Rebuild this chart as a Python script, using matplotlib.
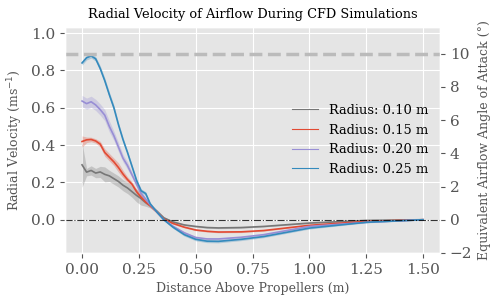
"""Radial velocity of the airflow above the propellers, CFD runs."""

import numpy as np
import matplotlib
matplotlib.use("Agg")
import matplotlib.pyplot as plt

plt.style.use("ggplot")
plt.rcParams["font.family"] = ["DejaVu Serif"]

# distance above propellers (m)
dist = [0.00, 0.02, 0.04, 0.06, 0.08, 0.10, 0.12, 0.14, 0.16, 0.18, 0.20,
        0.22, 0.24, 0.26, 0.28, 0.30, 0.33, 0.36, 0.40, 0.45, 0.50, 0.55,
        0.60, 0.70, 0.80, 1.00, 1.25, 1.50]

# mean radial velocity (m/s) per radius
v_010 = [0.294, 0.255, 0.264, 0.250, 0.256, 0.243, 0.235, 0.220, 0.205, 0.185,
         0.170, 0.150, 0.130, 0.113, 0.092, 0.075, 0.045, 0.010, -0.012, -0.028,
         -0.036, -0.042, -0.044, -0.042, -0.036, -0.018, -0.004, 0.000]
v_015 = [0.419, 0.428, 0.430, 0.422, 0.405, 0.360, 0.335, 0.310, 0.280, 0.245,
         0.215, 0.190, 0.150, 0.120, 0.095, 0.075, 0.040, 0.003, -0.020, -0.040,
         -0.055, -0.062, -0.066, -0.065, -0.058, -0.030, -0.009, 0.000]
v_020 = [0.636, 0.622, 0.632, 0.615, 0.590, 0.560, 0.500, 0.450, 0.390, 0.330,
         0.290, 0.240, 0.190, 0.140, 0.110, 0.080, 0.040, 0.000, -0.035, -0.070,
         -0.095, -0.103, -0.103, -0.094, -0.080, -0.036, -0.014, 0.000]
v_025 = [0.840, 0.868, 0.878, 0.862, 0.810, 0.745, 0.670, 0.600, 0.510, 0.430,
         0.360, 0.285, 0.210, 0.155, 0.140, 0.085, 0.040, 0.000, -0.040, -0.080,
         -0.105, -0.115, -0.116, -0.105, -0.090, -0.045, -0.014, 0.000]

# spread between runs (half width of shaded band)
e_010 = [0.120, 0.020, 0.025, 0.025, 0.030, 0.040, 0.030, 0.030, 0.030, 0.030,
         0.030, 0.030, 0.035, 0.035, 0.020, 0.012, 0.008, 0.006, 0.005, 0.004,
         0.004, 0.004, 0.004, 0.004, 0.003, 0.003, 0.002, 0.002]
e_015 = [0.030, 0.015, 0.012, 0.012, 0.015, 0.020, 0.020, 0.020, 0.025, 0.020,
         0.015, 0.012, 0.012, 0.015, 0.010, 0.008, 0.006, 0.005, 0.004, 0.004,
         0.004, 0.004, 0.004, 0.004, 0.003, 0.003, 0.002, 0.002]
e_020 = [0.030, 0.030, 0.030, 0.030, 0.030, 0.030, 0.030, 0.025, 0.025, 0.020,
         0.020, 0.015, 0.015, 0.012, 0.010, 0.008, 0.006, 0.005, 0.005, 0.005,
         0.005, 0.005, 0.005, 0.004, 0.004, 0.003, 0.002, 0.002]
e_025 = [0.012, 0.012, 0.012, 0.012, 0.015, 0.015, 0.015, 0.015, 0.012, 0.012,
         0.010, 0.010, 0.010, 0.010, 0.010, 0.008, 0.006, 0.006, 0.006, 0.008,
         0.008, 0.008, 0.008, 0.007, 0.006, 0.005, 0.003, 0.002]

radii = ["0.10", "0.15", "0.20", "0.25"]
colors = ["#777777", "#E24A33", "#988ED5", "#348ABD"]
means = [v_010, v_015, v_020, v_025]
errs = [e_010, e_015, e_020, e_025]

AOA_LIMIT = 10.0           # degrees
DEG_PER_MS = 10.0 / 0.889  # right axis scale

fig, ax = plt.subplots(figsize=(5.0, 3.04), dpi=100)
fig.subplots_adjust(left=0.13, right=0.88, top=0.912, bottom=0.168)

x = np.array(dist)
for r, c, m, e in zip(radii, colors, means, errs):
    m = np.array(m)
    e = np.array(e)
    ax.fill_between(x, m - e, m + e, color=c, alpha=0.3, lw=0)
    ax.plot(x, m, color=c, lw=1.2, label=f"Radius: {r} m")

ax.axhline(0, color="k", ls="-.", lw=0.8, alpha=0.8)
ax.set_ylim(-0.178, 1.034)
ax.set_xticks([0, 0.25, 0.5, 0.75, 1.0, 1.25, 1.5])
ax.tick_params(labelsize=11)
ax.set_xlabel("Distance Above Propellers (m)", fontsize=9, color="#555555")
ax.set_ylabel("Radial Velocity (ms$^{-1}$)", fontsize=9, color="#555555")
ax.set_title("Radial Velocity of Airflow During CFD Simulations", fontsize=9.3)
leg = ax.legend(loc="center right", frameon=False, fontsize=9.4)
for ln in leg.get_lines():
    ln.set_linewidth(0.8)

ax2 = ax.twinx()
ax2.grid(False)
ax2.set_ylim(np.array(ax.get_ylim()) * DEG_PER_MS)
ax2.axhline(AOA_LIMIT, color="#bbbbbb", ls="--", lw=2.5)
ax2.set_yticks([-2, 0, 2, 4, 6, 8, 10])
ax2.tick_params(labelsize=11)
ax2.set_ylabel("Equivalent Airflow Angle of Attack (°)", fontsize=9,
               color="#555555")

fig.savefig("out.png", dpi=100)
